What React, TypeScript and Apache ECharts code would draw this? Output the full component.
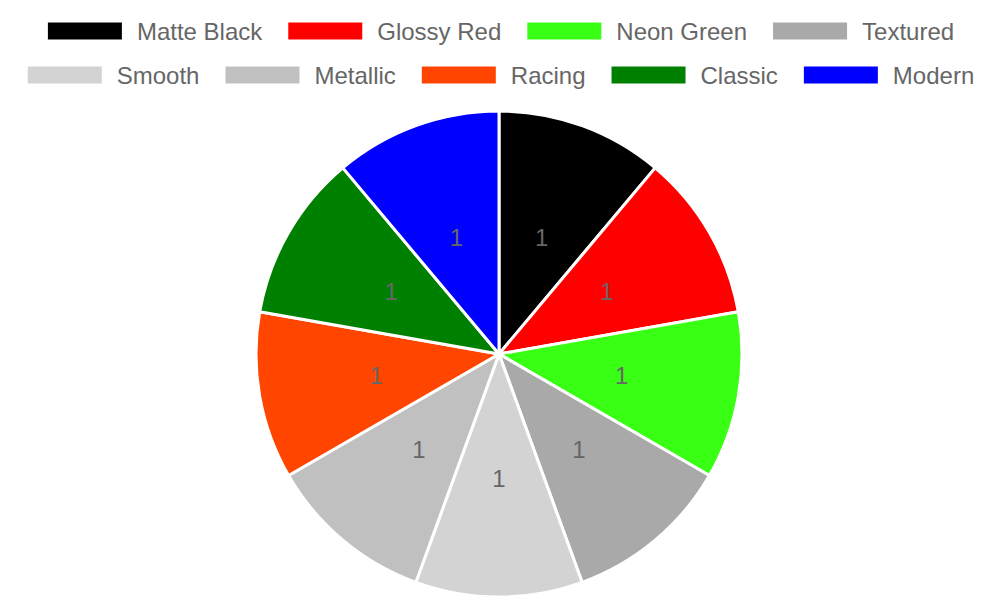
import React, { useEffect, useRef } from "react";
import * as echarts from "echarts";

const categories = [
  "Matte Black",
  "Glossy Red",
  "Neon Green",
  "Textured",
  "Smooth",
  "Metallic",
  "Racing",
  "Classic",
  "Modern",
];
const values = [1, 1, 1, 1, 1, 1, 1, 1, 1];
const colors = [
  "#000000",
  "#ff0000",
  "#39ff14",
  "#a9a9a9",
  "#d3d3d3",
  "#c0c0c0",
  "#ff4500",
  "#008000",
  "#0000ff",
];
// legend rows, each centered on its own
const legendRow1 = categories.slice(0, 4);
const legendRow2 = categories.slice(4);

const FONT = "Liberation Sans";

const legendBase = {
  left: "center",
  padding: 0,
  itemWidth: 76,
  itemHeight: 19,
  itemGap: 24,
  icon: "rect",
  textStyle: {
    fontFamily: FONT,
    fontSize: 24,
    color: "#666",
    padding: [0, 0, 0, 9],
  },
};

const App: React.FC = () => {
  const chartRef = useRef<HTMLDivElement>(null);

  useEffect(() => {
    document.body.style.margin = "0";
    if (!chartRef.current) return;
    const chart = echarts.init(chartRef.current, undefined, { renderer: "svg" });

    const option: echarts.EChartsOption = {
      animation: false,
      color: colors,
      legend: [
        { ...legendBase, top: 19, data: legendRow1 },
        { ...legendBase, top: 63, data: legendRow2 },
      ] as any,
      series: [
        {
          type: "pie",
          center: [499, 354],
          radius: 243,
          startAngle: 90,
          clockwise: true,
          itemStyle: { borderColor: "#fff", borderWidth: 3 },
          label: {
            show: true,
            position: "inside",
            formatter: "{c}",
            fontFamily: FONT,
            fontSize: 24,
            color: "#666",
          },
          labelLine: { show: false },
          emphasis: { disabled: true },
          data: categories.map((name, i) => ({ name, value: values[i] })),
        },
      ],
    };

    chart.setOption(option);
    return () => {
      chart.dispose();
    };
  }, []);

  return <div ref={chartRef} style={{ width: 1000, height: 600 }} />;
};

export default App;
